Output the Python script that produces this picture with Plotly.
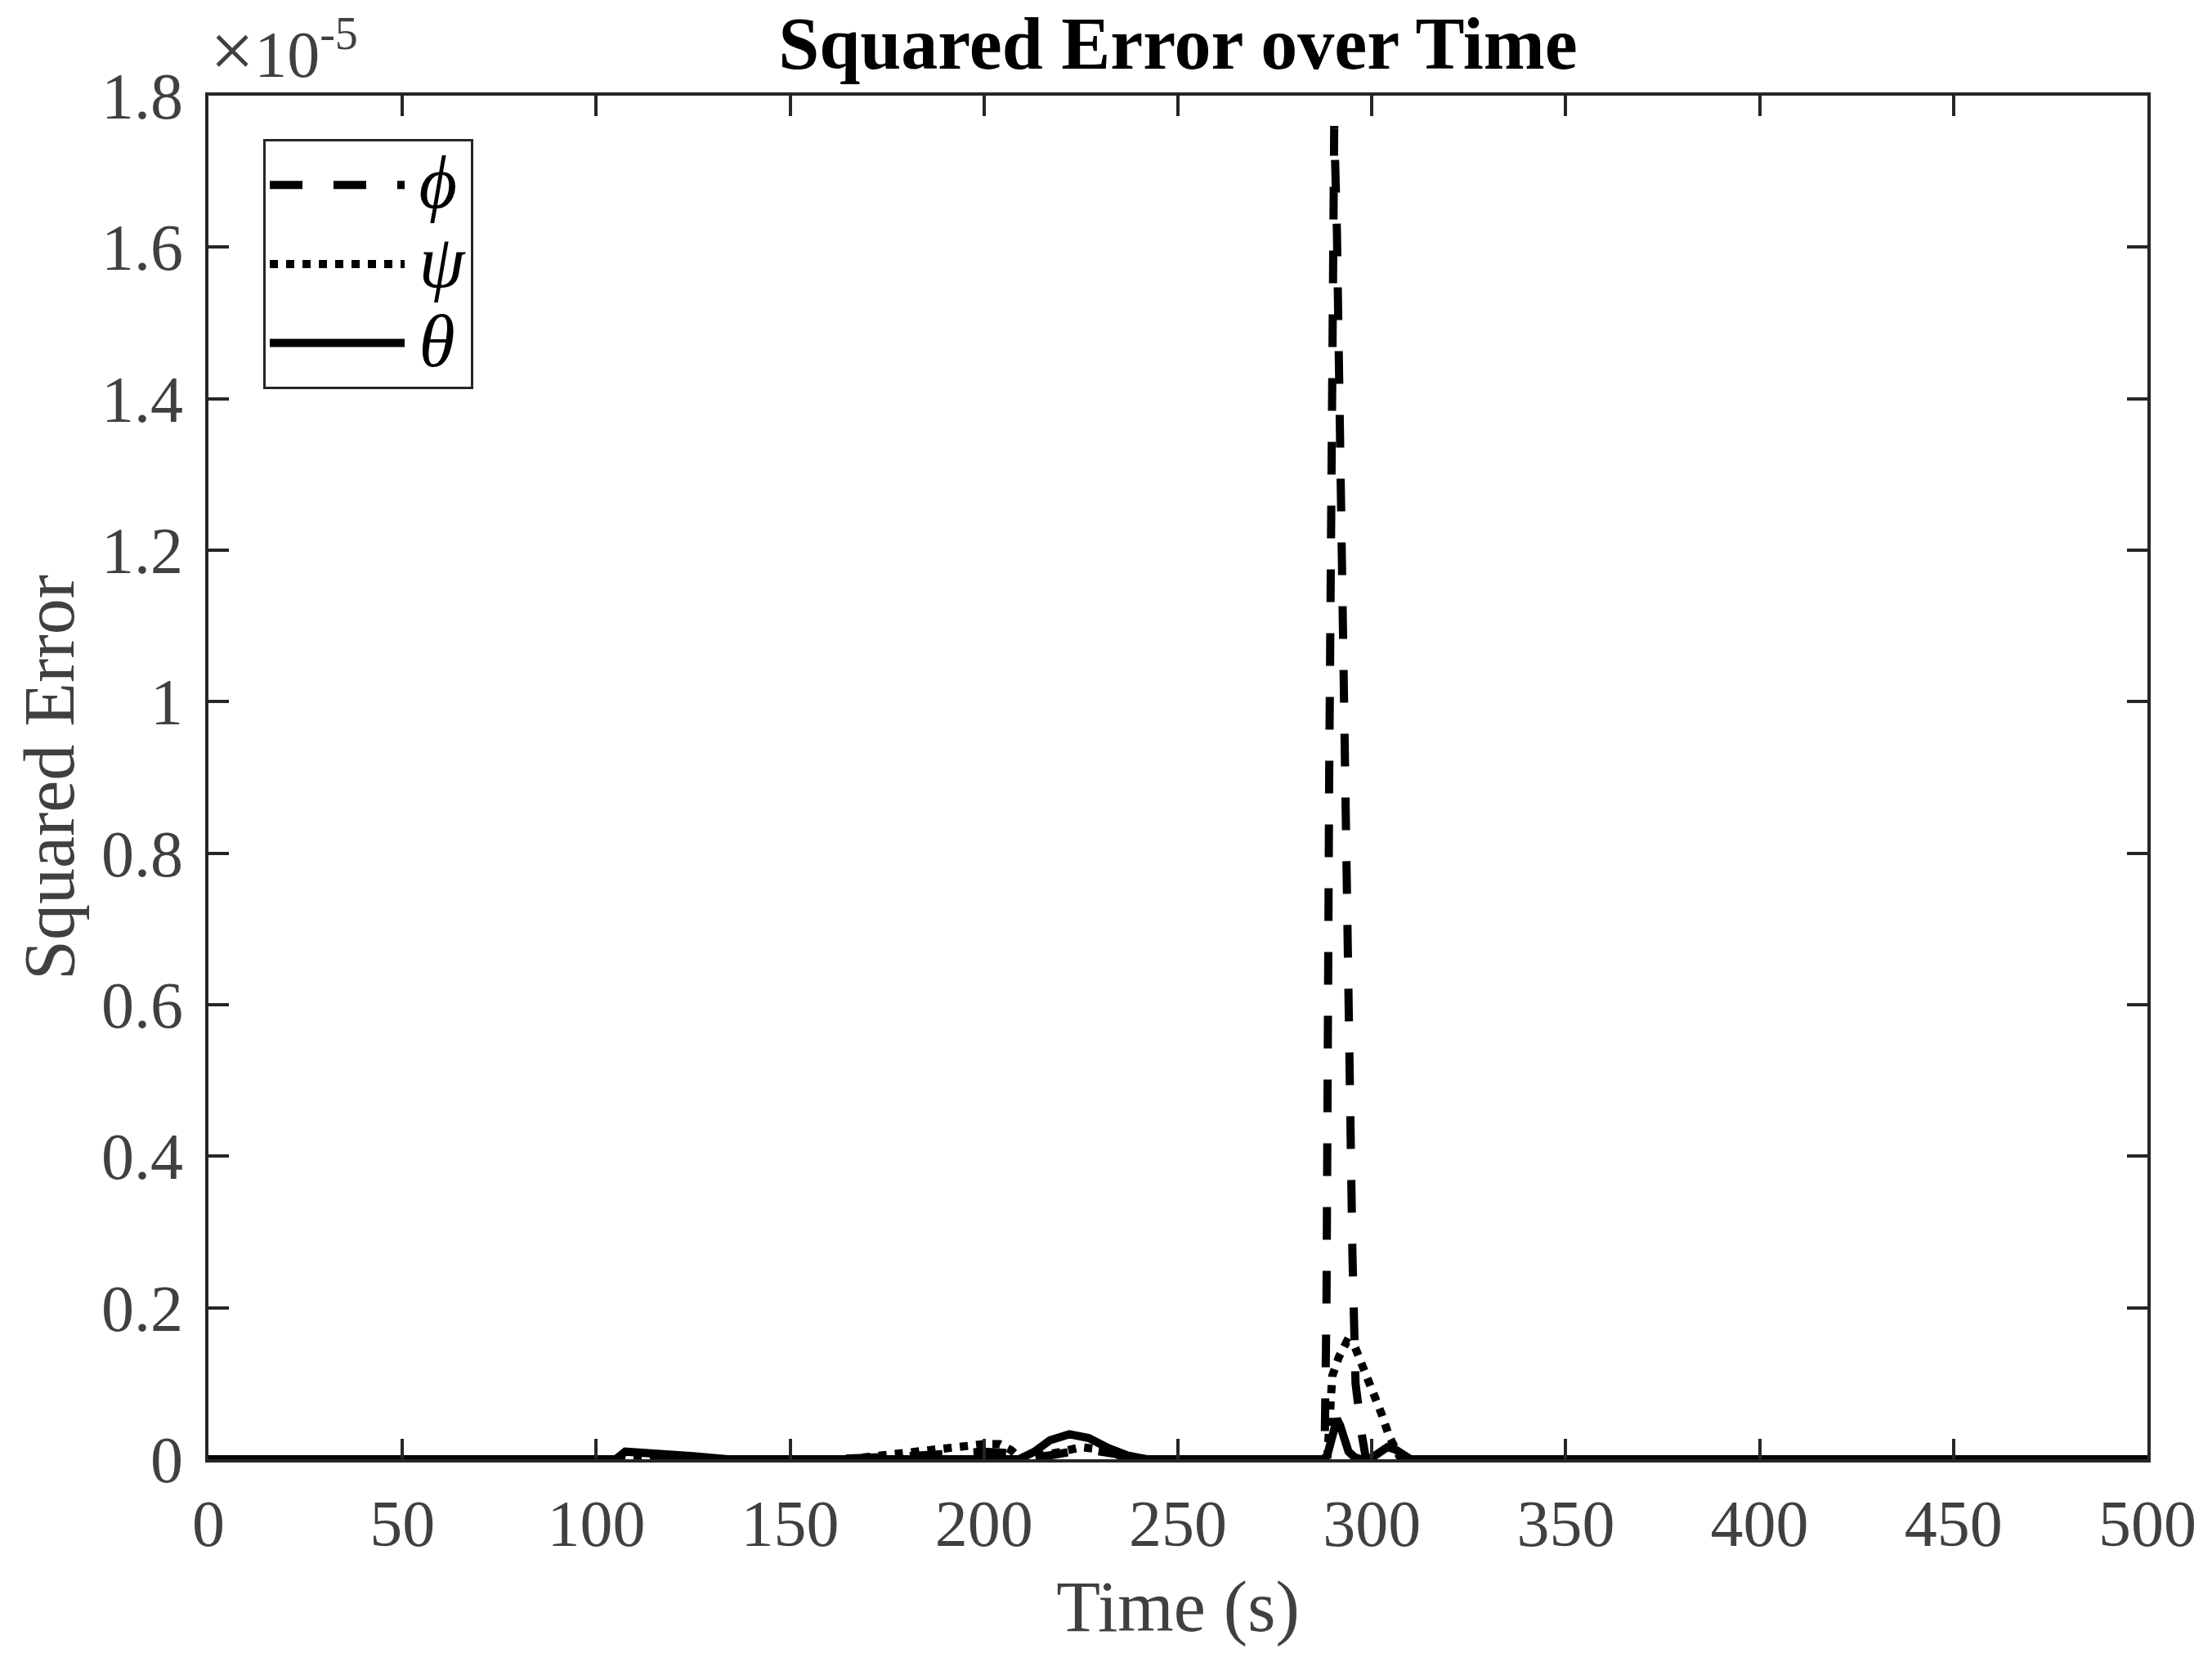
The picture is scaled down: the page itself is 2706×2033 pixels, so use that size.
import plotly.graph_objects as go

# squared error, in units of 1e-5
time_phi = [0, 160, 180, 200, 207, 210, 218, 226, 234, 240, 287.8, 288.3, 289.0, 289.7,
            290.3, 291.0, 292.0, 293.0, 294.0, 295.0, 295.8, 296.6, 297.5, 298.5, 500]
phi_err = [0, 0, 0.004, 0.01, 0.008, 0, 0.006, 0.013, 0.007, 0, 0, 0.2, 0.9, 1.55,
           1.76, 1.62, 1.25, 0.9, 0.55, 0.27, 0.1, 0.06, 0.03, 0, 0]

time_psi = [0, 164, 170, 178, 185, 190, 195, 200, 204, 207, 209.5, 215, 220, 225, 230,
            235, 240, 288.5, 289.2, 289.8, 291.5, 293.5, 295.5, 297.5, 300, 302.5,
            304.5, 306, 307.5, 500]
psi_err = [0, 0, 0.003, 0.008, 0.011, 0.014, 0.017, 0.02, 0.02, 0.012, 0, 0.004, 0.01,
           0.016, 0.013, 0.005, 0, 0, 0.05, 0.11, 0.135, 0.155, 0.15, 0.125, 0.095,
           0.06, 0.03, 0.012, 0, 0]

time_theta = [0, 105, 107.5, 112, 118, 125, 134, 209, 213, 217, 222, 227, 232, 237,
              242, 287.5, 288.5, 289.5, 290.3, 291.0, 291.8, 292.8, 294.0, 295.5, 297,
              300, 302, 304, 306, 308, 310, 500]
theta_err = [0, 0, 0.01, 0.009, 0.007, 0.004, 0, 0, 0.01, 0.025, 0.033, 0.028, 0.015,
             0.005, 0, 0, 0.005, 0.025, 0.045, 0.053, 0.045, 0.025, 0.01, 0.003, 0,
             0.002, 0.01, 0.016, 0.013, 0.005, 0, 0]

x_ticks = list(range(0, 501, 50))
y_ticks = [0, 0.2, 0.4, 0.6, 0.8, 1.0, 1.2, 1.4, 1.6, 1.8]
y_tick_text = ["0", "0.2", "0.4", "0.6", "0.8", "1", "1.2", "1.4", "1.6", "1.8"]

FONT = "Liberation Serif"
GREY = "#404040"
AXC = "#262626"


def greek(ch):
    # small leading space keeps the glyph off the line sample
    return '<span style="font-size:50px"> </span><span style="font-size:90px"><i>%s</i></span>' % ch


fig = go.Figure()
fig.add_trace(go.Scatter(x=time_phi, y=phi_err, mode="lines", name=greek("ϕ"),
                         line=dict(color="black", width=10, dash="40px,38px")))
fig.add_trace(go.Scatter(x=time_psi, y=psi_err, mode="lines", name=greek("ψ"),
                         line=dict(color="black", width=10, dash="10px,10px")))
fig.add_trace(go.Scatter(x=time_theta, y=theta_err, mode="lines", name=greek("θ"),
                         line=dict(color="black", width=10)))

axis_common = dict(showline=True, linecolor=AXC, linewidth=4, mirror="ticks",
                   ticks="inside", ticklen=25, tickwidth=4, tickcolor=AXC,
                   showgrid=False, zeroline=False,
                   tickfont=dict(family=FONT, size=80, color=GREY))

fig.update_layout(
    width=2706, height=2033,
    margin=dict(l=255, r=79, t=117, b=248),
    paper_bgcolor="white", plot_bgcolor="white",
    font=dict(family=FONT, color=GREY),
    title=dict(text="<b>Squared Error over Time</b>", x=0.5, xref="paper",
               y=1 - 52 / 2033, yanchor="middle",
               font=dict(family=FONT, size=90, color="black")),
    xaxis=dict(range=[0, 500], tickvals=x_ticks, ticklabelstandoff=6,
               title=dict(text="Time (s)", standoff=27,
                          font=dict(family=FONT, size=88, color=GREY)),
               **axis_common),
    yaxis=dict(range=[0, 1.8], tickvals=y_ticks, ticktext=y_tick_text,
               ticklabelstandoff=11, **axis_common),
    legend=dict(x=(322 - 255) / 2372, y=(1785 - 170) / 1668, xanchor="left",
                yanchor="top", bgcolor="white", bordercolor=AXC, borderwidth=3,
                font=dict(family=FONT, size=72, color="black"), itemwidth=165),
    showlegend=True,
)

# y-axis title placed directly so it sits where the reference has it
fig.add_annotation(text="Squared Error", xref="paper", yref="paper",
                   x=(60 - 255) / 2372, y=0.5, xanchor="center", yanchor="middle",
                   textangle=-90, showarrow=False,
                   font=dict(family=FONT, size=88, color=GREY))

fig.add_annotation(text='<span style="font-size:96px">×</span>10<sup>-5</sup>',
                   xref="paper", yref="paper", x=0, y=1,
                   xanchor="left", yanchor="bottom", showarrow=False,
                   font=dict(family=FONT, size=80, color=GREY))

fig.write_html("out.html", config={"displayModeBar": False},
               post_script="document.body.style.margin='0';")
